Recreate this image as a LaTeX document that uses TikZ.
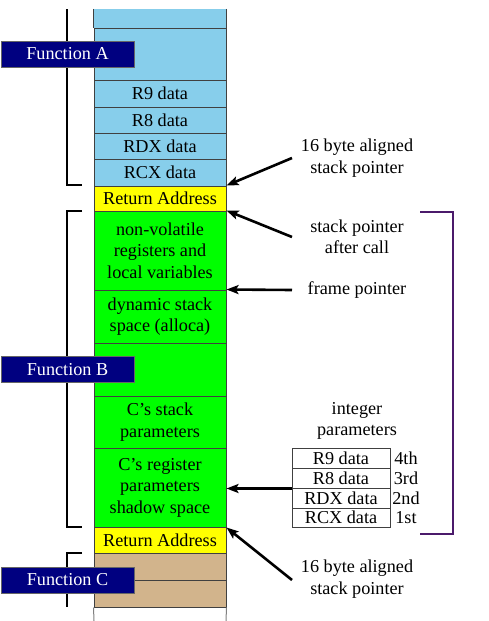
\documentclass[tikz,border=0pt]{standalone}
\usepackage{fontspec}
\setmainfont{Liberation Serif}
\usetikzlibrary{arrows.meta}
\definecolor{skyb}{HTML}{87CEEB}
\definecolor{yel}{HTML}{FFFF00}
\definecolor{grn}{HTML}{00FF00}
\definecolor{tanc}{HTML}{D2B48C}
\definecolor{navyc}{HTML}{000080}
\definecolor{purp}{HTML}{4B1A6B}
\definecolor{linec}{HTML}{404040}
\begin{document}
\begin{tikzpicture}[x=1pt,y=-1pt,
  every node/.style={font=\fontsize{18.2}{21.5}\selectfont},
  cell/.style={rectangle, draw=linec, line width=1pt, minimum width=132pt, inner sep=0pt, align=center, text=black},
  cellnd/.style={rectangle, draw=none, minimum width=132pt, inner sep=0pt},
  funcbox/.style={rectangle, fill=navyc, draw=black!60, line width=0.6pt, minimum width=133pt, minimum height=26pt, inner sep=0pt, text=white},
  brack/.style={line width=2.4pt, black},
  arr/.style={line width=2.6pt, black, -{Stealth[length=12pt,width=9pt,inset=2.5pt]}},
  lbl/.style={align=center, inner sep=0pt, text=black},
  tcell/.style={rectangle, draw=linec, line width=1pt, minimum width=98pt, inner sep=0pt, text=black},
  ord/.style={inner sep=0pt, text=black}
]
\useasboundingbox (0,0) rectangle (489,621);
% brackets (behind function boxes)
\draw[brack] (67,9) -- (67,185) -- (82,185);
\draw[brack] (82,211) -- (67,211) -- (67,527) -- (82,527);
\draw[brack] (82,553) -- (67,553) -- (67,607);
% column cells
\node[cellnd, fill=skyb, minimum height=19pt] (topA) at (160,18.5) {};
\node[cell, fill=skyb, minimum height=52pt] (bigA) at (160,54) {};
\node[cell, fill=skyb, minimum height=27pt] (r9) at (160,93.5) {R9 data};
\node[cell, fill=skyb, minimum height=26pt] (r8) at (160,120) {R8 data};
\node[cell, fill=skyb, minimum height=26pt] (rdx) at (160,146) {RDX data};
\node[cell, fill=skyb, minimum height=27pt] (rcx) at (160,172.5) {RCX data};
\node[cell, fill=yel, minimum height=25pt] (retA) at (160,198.5) {Return Address};
\node[cell, fill=grn, minimum height=79pt] (nonvol) at (160,250.5) {non-volatile\\registers and\\local variables};
\node[cell, fill=grn, minimum height=53pt] (dyn) at (160,316.5) {dynamic stack\\space (alloca)};
\node[cell, fill=grn, minimum height=53pt] (emptyB) at (160,369.5) {};
\node[cell, fill=grn, minimum height=52pt] (cstack) at (160,422) {C’s stack\\parameters};
\node[cell, fill=grn, minimum height=79pt] (creg) at (160,487.5) {C’s register\\parameters\\shadow space};
\node[cell, fill=yel, minimum height=26pt] (retB) at (160,540) {Return Address};
\node[cell, fill=tanc, minimum height=27pt] (tan1) at (160,566.5) {};
\node[cell, fill=tanc, minimum height=27pt] (tan2) at (160,593.5) {};
\draw[linec, line width=1pt] (topA.north west) -- (topA.south west);
\draw[linec, line width=1pt] (topA.north east) -- (topA.south east);
\draw[gray, line width=1pt] (tan2.south west) -- (94,621);
\draw[gray, line width=1pt] (tan2.south east) -- (226,621);
% function labels
\node[funcbox] (fA) at (67.5,54) {Function A};
\node[funcbox] (fB) at (67.5,369.5) {Function B};
\node[funcbox] (fC) at (67.5,580) {Function C};
% right labels
\node[lbl] (sp16a) at (357,158) {16 byte aligned\\stack pointer};
\node[lbl] (spcall) at (357,237) {stack pointer\\after call};
\node[lbl] (fp) at (357,290) {frame pointer};
\node[lbl] (intp) at (357,421) {integer\\parameters};
\node[lbl] (sp16b) at (357,579) {16 byte aligned\\stack pointer};
% register table
\node[tcell, minimum height=20pt] (t9) at (341,458) {R9 data};
\node[tcell, minimum height=20pt] (t8) at (341,478) {R8 data};
\node[tcell, minimum height=20pt] (tdx) at (341,498) {RDX data};
\node[tcell, minimum height=19pt] (tcx) at (341,517.5) {RCX data};
\node[ord] (o4) at (406,458) {4th};
\node[ord] (o3) at (406,478) {3rd};
\node[ord] (o2) at (406,498) {2nd};
\node[ord] (o1) at (406,517.5) {1st};
% arrows
\coordinate (a1s) at (292,158);
\coordinate (a2s) at (292,237);
\coordinate (a3s) at (292,290);
\coordinate (a5s) at (292,580);
\draw[arr] (a1s) -- (retA.north east);
\draw[arr] (a2s) -- (nonvol.north east);
\draw[arr] (a3s) -- (dyn.north east);
\draw[arr] (t8.south west) -- (t8.south west -| creg.east);
\draw[arr] (a5s) -- (creg.south east);
% purple bracket
\draw[purp, line width=2.4pt] (420,212) -- (453,212) -- (453,534) -- (420,534);
\end{tikzpicture}
\end{document}
